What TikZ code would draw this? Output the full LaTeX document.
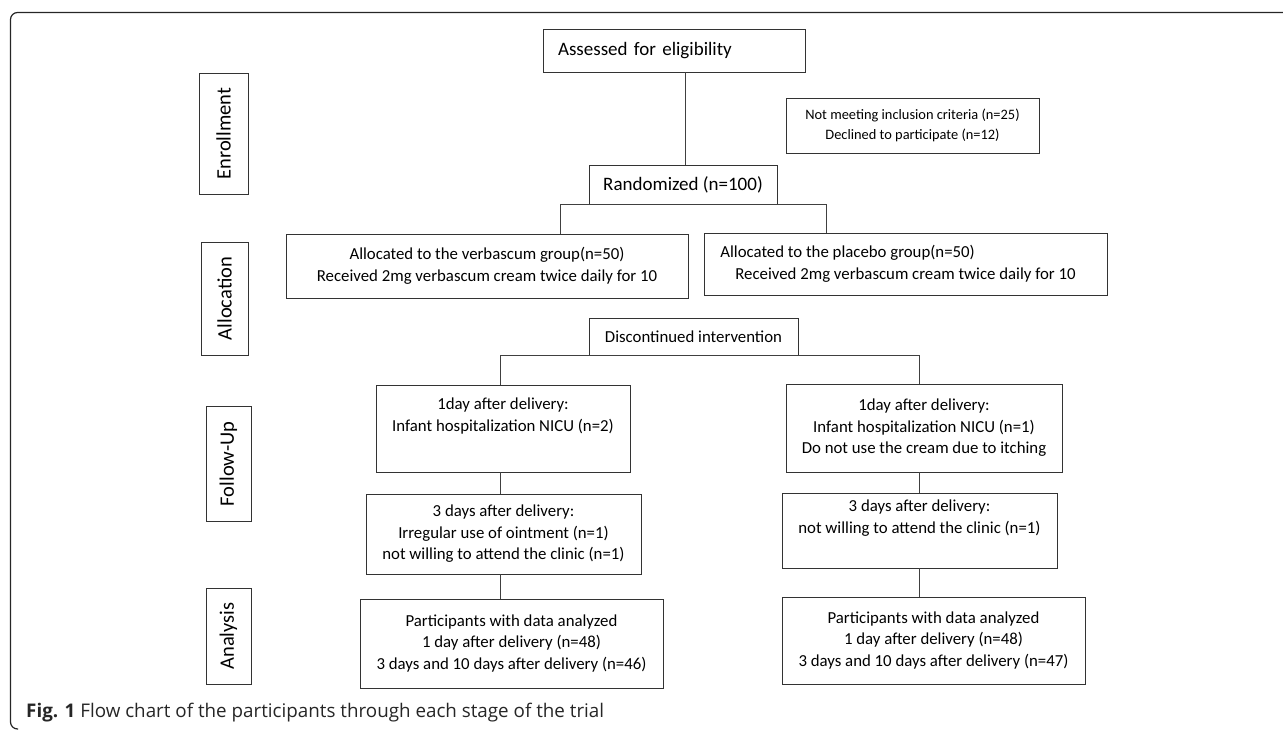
\documentclass[tikz,border=0pt]{standalone}
\usepackage{fontspec}
\setmainfont{Carlito}
\newfontfamily\capfont{Open Sans}
\usetikzlibrary{calc}

\begin{document}
\begin{tikzpicture}[x=1pt, y=-1pt,
  box/.style={draw=black!80, line width=0.9pt, inner sep=0pt, align=center,
    font=\fontsize{16.8}{21.5}\selectfont},
  phase/.style={box, rotate=90, font=\fontsize{20.5}{24}\selectfont},
  link/.style={draw=black!75, line width=0.9pt}]
\useasboundingbox (0,0) rectangle (1283,730);
\draw[black!85, line width=1.2pt, rounded corners=7pt] (1283,12.5) -- (10.5,12.5) -- (10.5,729) -- (18,729);

\node[phase, minimum width=121, minimum height=49] (enrol) at (223.5,133.5) {Enrollment};
\node[phase, minimum width=113, minimum height=47] (alloc) at (224.5,298.5) {Allocation};
\node[phase, minimum width=115, minimum height=45] (follow) at (228.5,464) {Follow-Up};
\node[phase, minimum width=96, minimum height=45] (analys) at (228.5,636) {Analysis};

\node[box, align=left, text width=232, inner xsep=15, minimum height=43,
  font=\fontsize{19}{23}\selectfont] (assess) at (674,50.5) {Assessed for eligibility};
\node[box, minimum width=253, minimum height=55, font=\fontsize{14.4}{20}\selectfont] (excl) at (912.5,125.5)
  {Not meeting inclusion criteria (n=25)\\Declined to participate (n=12)};
\node[box, minimum width=188, minimum height=39, font=\fontsize{19}{23}\selectfont] (random) at (683,184.5)
  {Randomized (n=100)};

\node[box, minimum width=402, minimum height=64] (verb) at (487,266)
  {Allocated to the verbascum group(n=50)\\Received 2mg verbascum cream twice daily for 10};
\node[box, align=left, minimum width=403, minimum height=62] (plac) at (905.5,264)
  {Allocated to the placebo group(n=50)\\\hspace*{15pt}Received 2mg verbascum cream twice daily for 10\hspace*{15pt}};
\node[box, minimum width=209, minimum height=37] (disc) at (693.5,336.5) {Discontinued intervention};

\node[box, minimum width=254, minimum height=86.5] (fu1l) at (503,428.7)
  {1day after delivery:\\Infant hospitalization NICU (n=2)\\\strut};
\node[box, minimum width=276, minimum height=88] (fu1r) at (924,428)
  {1day after delivery:\\Infant hospitalization NICU (n=1)\\Do not use the cream due to itching};
\node[box, minimum width=275, minimum height=80] (fu3l) at (503.5,534)
  {3 days after delivery:\\Irregular use of ointment (n=1)\\not willing to attend the clinic (n=1)};
\node[box, minimum width=275, minimum height=75] (fu3r) at (919.5,530.5)
  {3 days after delivery:\\not willing to attend the clinic (n=1)\\\strut};
\node[box, minimum width=303, minimum height=89] (anl) at (511.5,643.5)
  {Participants with data analyzed\\1 day after delivery (n=48)\\3 days and 10 days after delivery (n=46)};
\node[box, minimum width=303, minimum height=87] (anr) at (933.5,640.5)
  {Participants with data analyzed\\1 day after delivery (n=48)\\3 days and 10 days after delivery (n=47)};

\draw[link] ([xshift=2pt]random.north) -- ([xshift=2pt]random.north |- assess.south);
\draw[link] ([xshift=73pt]verb.north) |- (random.south) -| ([xshift=-79.5pt]plac.north);
\draw[link] ([xshift=-3pt]fu1l.north) |- (disc.south) -| ([xshift=-5pt]fu1r.north);
\draw[link] ([xshift=-3pt]fu1l.south) -- ([xshift=-3pt]fu1l.south |- fu3l.north);
\draw[link] ([xshift=-3.5pt]fu3l.south) -- ([xshift=-3.5pt]fu3l.south |- anl.north);
\draw[link] ([xshift=-5pt]fu1r.south) -- ([xshift=-5pt]fu1r.south |- fu3r.north);
\draw[link] ([xshift=-0.5pt]fu3r.south) -- ([xshift=-0.5pt]fu3r.south |- anr.north);

\node[anchor=base west, inner sep=0pt, text=black!85, font=\capfont\fontsize{18.8}{22}\selectfont] (caption) at (26,717.7)
  {\textbf{Fig. 1} Flow chart of the participants through each stage of the trial};
\end{tikzpicture}
\end{document}
